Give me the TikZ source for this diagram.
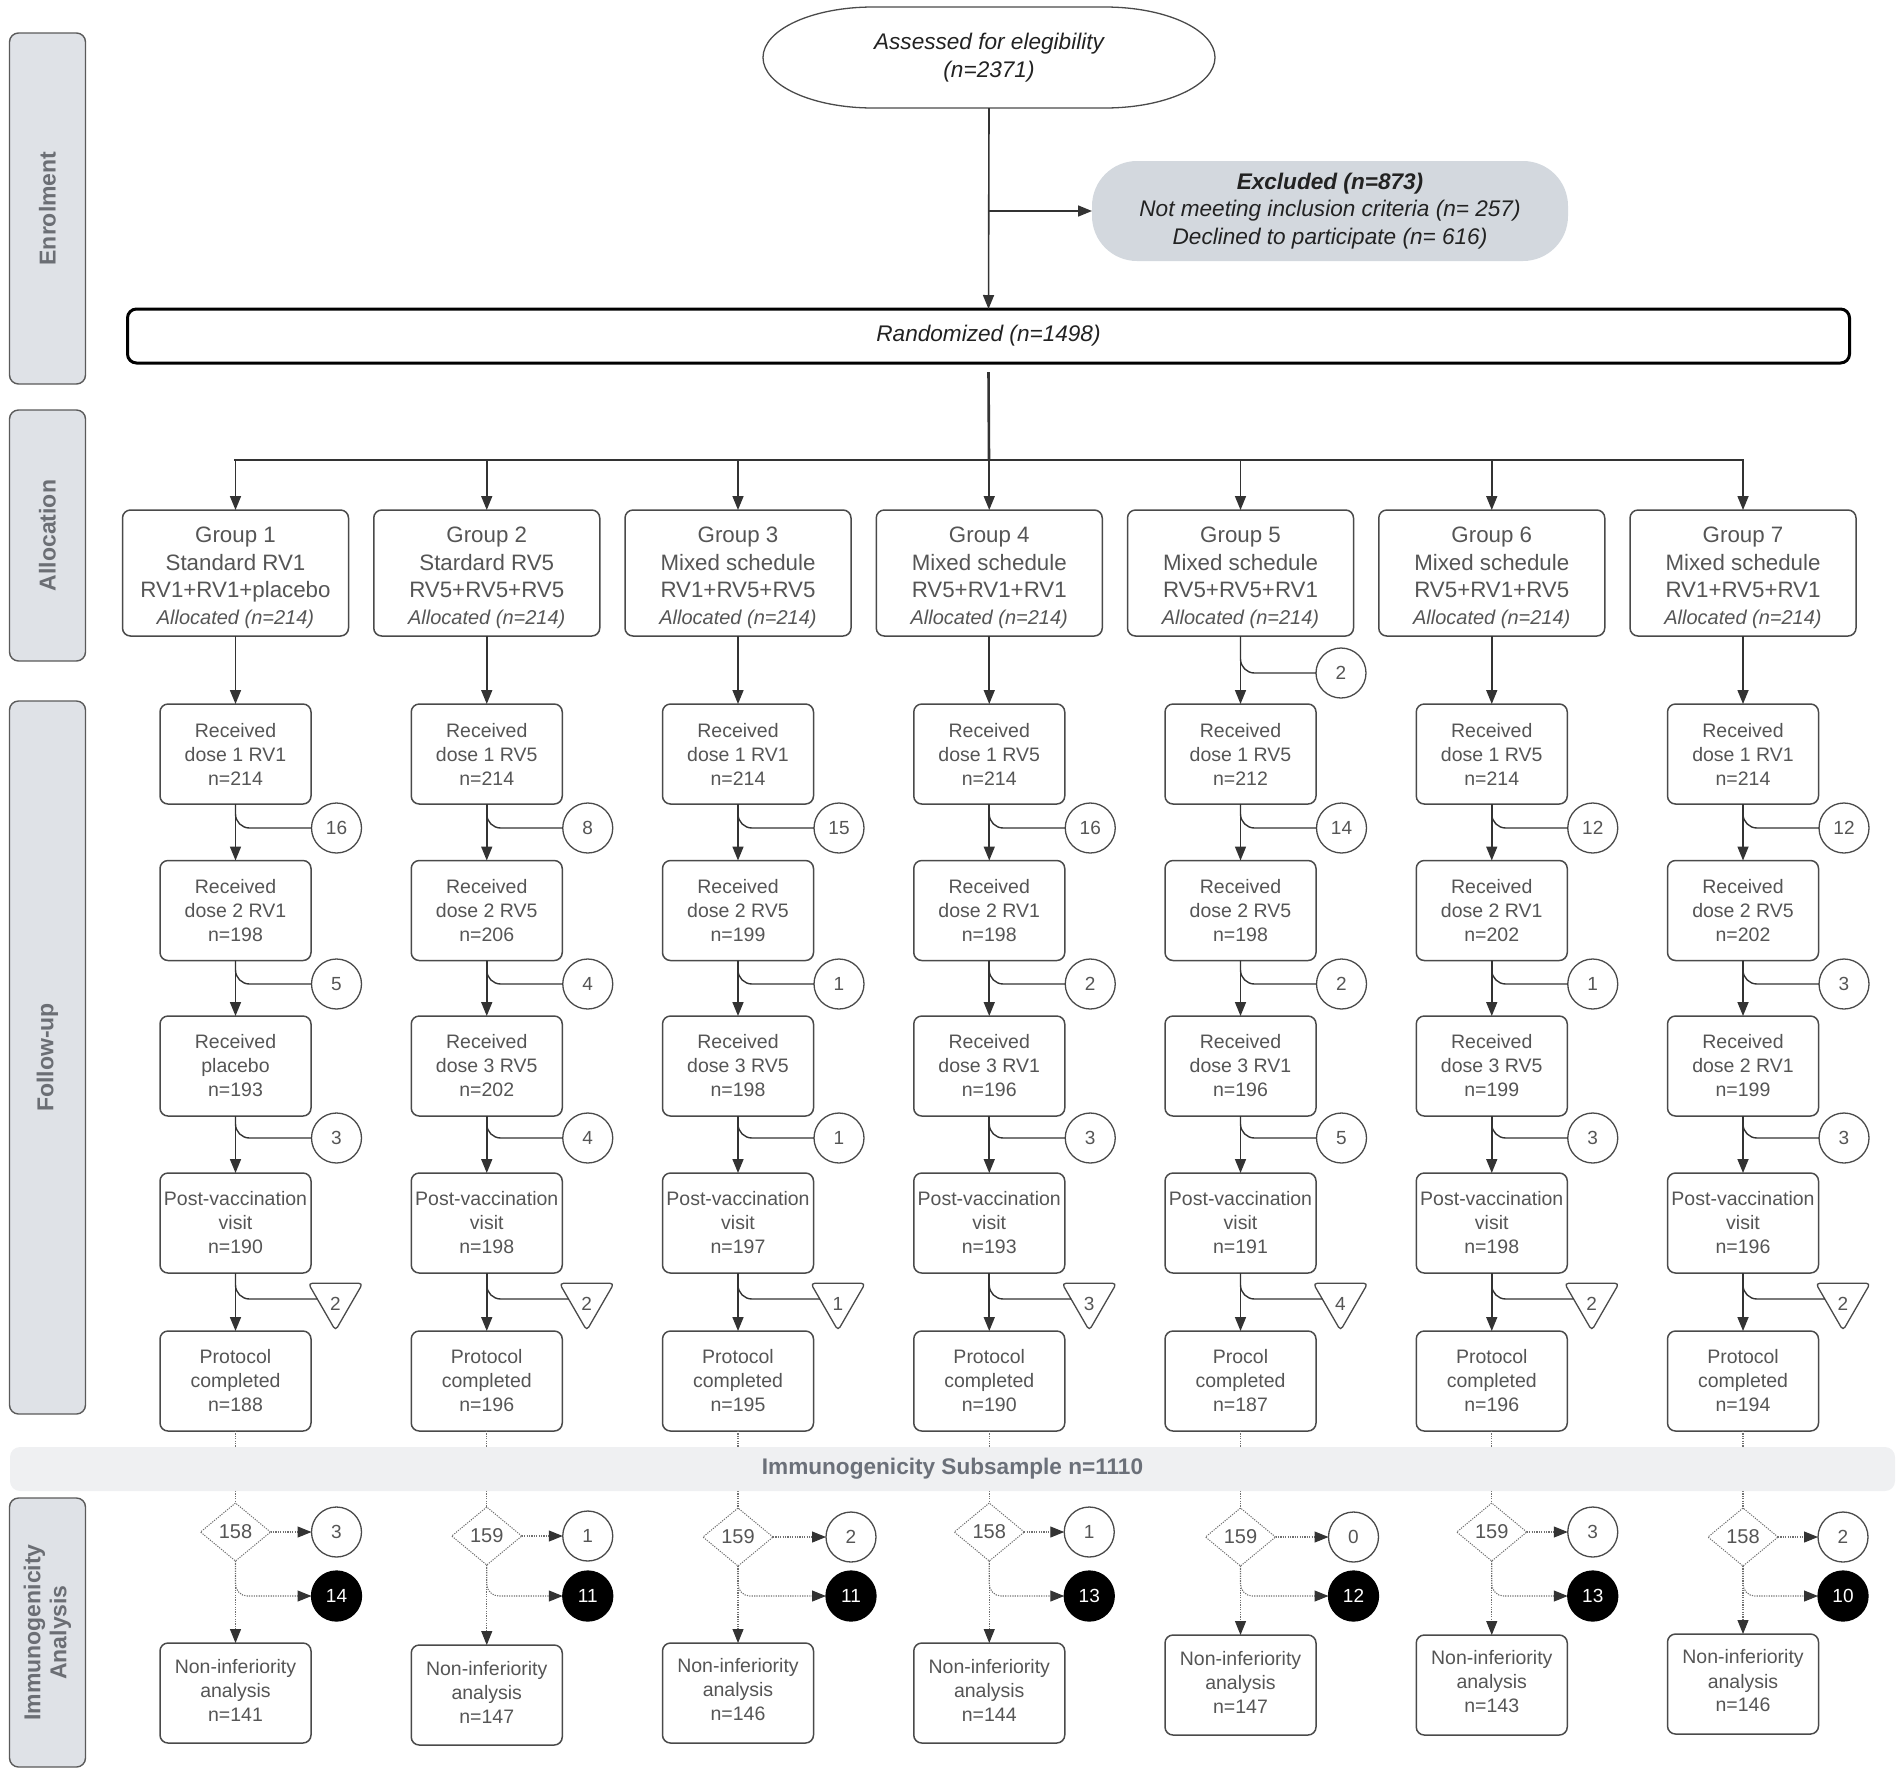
\documentclass[tikz,border=0pt]{standalone}
\usepackage{fontspec}
\setmainfont{Liberation Sans}
\usetikzlibrary{arrows.meta,shapes.geometric}
\definecolor{linec}{HTML}{333333}
\definecolor{boxc}{HTML}{4A4A4A}
\definecolor{txtc}{HTML}{555555}
\definecolor{toptxt}{HTML}{222222}
\definecolor{panelfill}{HTML}{DFE2E7}
\definecolor{panelborder}{HTML}{5A5A5A}
\definecolor{paneltext}{HTML}{6B6E74}
\definecolor{exclfill}{HTML}{D3D8DE}
\definecolor{bandfill}{HTML}{EFF0F2}
\definecolor{bandtext}{HTML}{6B7079}
\definecolor{dotc}{HTML}{707070}
\begin{document}
\begin{tikzpicture}[x=1pt,y=-1pt,
  every node/.style={inner sep=0pt, outer sep=0pt},
  panel/.style={draw=panelborder, fill=panelfill, line width=1.4pt, rounded corners=9pt, minimum width=76pt},
  paneltxt/.style={rotate=90, text=paneltext, font=\fontsize{23}{26}\selectfont\bfseries, align=center},
  grp/.style={draw=boxc, line width=1.5pt, rounded corners=8pt, minimum width=226pt, minimum height=126pt},
  grptxt/.style={text=txtc, align=center, font=\fontsize{22.3}{27.4}\selectfont},
  rbox/.style={draw=boxc, line width=1.5pt, rounded corners=8pt, minimum width=151pt, minimum height=100pt, text=txtc, align=center, font=\fontsize{19.5}{24}\selectfont},
  circ/.style={circle, draw=boxc, line width=1.3pt, minimum size=50pt, text=txtc, font=\fontsize{19}{22}\selectfont},
  bcirc/.style={circle, draw=black, fill=black, line width=1.3pt, minimum size=50pt, text=white, font=\fontsize{19}{22}\selectfont},
  tri/.style={regular polygon, regular polygon sides=3, shape border rotate=180, draw=boxc, line width=1.3pt, minimum size=63pt, rounded corners=4pt},
  tritxt/.style={text=txtc, font=\fontsize{19}{22}\selectfont},
  dia/.style={diamond, draw=dotc, line width=1pt, dash pattern=on 1.2pt off 1.2pt, minimum width=70pt, minimum height=58pt, text=txtc, font=\fontsize{20}{22}\selectfont},
  arr/.style={draw=linec, line width=1.6pt, -{Triangle[length=14pt,width=11pt]}},
  br/.style={draw=linec, line width=1.4pt, rounded corners=14pt},
  dotl/.style={draw=dotc, line width=1.1pt, dash pattern=on 1.2pt off 1.2pt},
  darr/.style={dotl, -{Triangle[length=14pt,width=11pt,color=linec]}},
  dbr/.style={dotl, rounded corners=12pt, -{Triangle[length=14pt,width=11pt,color=linec]}},
]
\useasboundingbox (0,0) rectangle (1902,1773);

% side panels
\node[panel, minimum height=351pt] (pEn) at (47.5,208.5) {};
\node[paneltxt] (tEn) at (pEn.center) {Enrolment};
\node[panel, minimum height=251pt] (pAl) at (47.5,535.5) {};
\node[paneltxt] (tAl) at (pAl.center) {Allocation};
\node[panel, minimum height=713pt] (pFu) at (47.5,1057.5) {};
\node[paneltxt] (tFu) at (pFu.center) {Follow-up};
\node[panel, minimum height=269pt] (pIm) at (47.5,1632.5) {};
\node[paneltxt] (tIm) at (pIm.center) {Immunogenicity\\Analysis};

% top
\draw[boxc, line width=1.3pt] (873,7) -- (1105,7)
  arc[start angle=270, end angle=450, x radius=110, y radius=50.5]
  -- (873,108) arc[start angle=90, end angle=270, x radius=110, y radius=50.5] -- cycle;
\node[minimum width=453pt, minimum height=101pt, align=center, text=toptxt,
  font=\fontsize{22.6}{28}\selectfont\itshape] (ass) at (989,57.5) {Assessed for elegibility\\(n=2371)};
\node[fill=exclfill, rounded corners=45pt, minimum width=476pt, minimum height=100pt, align=center, text=toptxt,
  font=\fontsize{22.6}{27.5}\selectfont\itshape] (exc) at (1330,211) {\textbf{Excluded (n=873)}\\Not meeting inclusion criteria (n= 257)\\Declined to participate (n= 616)};
\node[draw=black, line width=3pt, rounded corners=9pt, minimum width=1722pt, minimum height=54pt, text=toptxt,
  font=\fontsize{22.6}{26}\selectfont\itshape] (rand) at (988.5,336) {Randomized (n=1498)};
\draw[arr] (ass.south) -- (rand.north);
\draw[arr] (ass.south |- exc.west) -- (exc.west);

% bus
\coordinate (busM) at (989,460);
\foreach \i in {1,...,7}{
  \pgfmathsetmacro\cx{235.5+251.25*(\i-1)}
  \coordinate (bus\i) at (\cx,460);
}
\draw[draw=linec, line width=2.6pt] ([yshift=-9pt]rand.south) -- (busM);
\draw[draw=linec, line width=2.6pt, line cap=rect] (bus1) -- (bus7);

% groups
\foreach \i/\sch/\reg in {1/Standard RV1/RV1+RV1+placebo, 2/Stardard RV5/RV5+RV5+RV5, 3/Mixed schedule/RV1+RV5+RV5, 4/Mixed schedule/RV5+RV1+RV1, 5/Mixed schedule/RV5+RV5+RV1, 6/Mixed schedule/RV5+RV1+RV5, 7/Mixed schedule/RV1+RV5+RV1}{
  \pgfmathsetmacro\cx{235.5+251.25*(\i-1)}
  \node[grp] (g\i) at (\cx,573) {};
  \node[grptxt] (gt\i) at (\cx,578) {Group \i\\\sch\\\reg\\{\fontsize{20}{27.4}\selectfont\itshape Allocated (n=214)}};
}

% dose 1
\foreach \i/\da/\na/\ma in {1/dose 1 RV1/214/16, 2/dose 1 RV5/214/8, 3/dose 1 RV1/214/15, 4/dose 1 RV5/214/16, 5/dose 1 RV5/212/14, 6/dose 1 RV5/214/12, 7/dose 1 RV1/214/12}{
  \pgfmathsetmacro\cx{235.5+251.25*(\i-1)}
  \node[rbox] (a\i) at (\cx,754) {Received\\\da\\n=\na};
  \node[circ] (ca\i) at ({\cx+101},828) {\ma};
}
% dose 2
\foreach \i/\da/\na/\ma in {1/dose 2 RV1/198/5, 2/dose 2 RV5/206/4, 3/dose 2 RV5/199/1, 4/dose 2 RV1/198/2, 5/dose 2 RV5/198/2, 6/dose 2 RV1/202/1, 7/dose 2 RV5/202/3}{
  \pgfmathsetmacro\cx{235.5+251.25*(\i-1)}
  \node[rbox] (b\i) at (\cx,910.5) {Received\\\da\\n=\na};
  \node[circ] (cb\i) at ({\cx+101},984) {\ma};
}
% dose 3
\foreach \i/\da/\na/\ma in {1/placebo/193/3, 2/dose 3 RV5/202/4, 3/dose 3 RV5/198/1, 4/dose 3 RV1/196/3, 5/dose 3 RV1/196/5, 6/dose 3 RV5/199/3, 7/dose 2 RV1/199/3}{
  \pgfmathsetmacro\cx{235.5+251.25*(\i-1)}
  \node[rbox] (c\i) at (\cx,1066) {Received\\\da\\n=\na};
  \node[circ] (cc\i) at ({\cx+101},1138) {\ma};
}
% post-vaccination
\foreach \i/\na/\ma in {1/190/2, 2/198/2, 3/197/1, 4/193/3, 5/191/4, 6/198/2, 7/196/2}{
  \pgfmathsetmacro\cx{235.5+251.25*(\i-1)}
  \node[rbox] (p\i) at (\cx,1223) {Post-vaccination\\visit\\n=\na};
  \node[tri] (t\i) at ({\cx+100},1299) {};
  \node[tritxt] (tt\i) at ({\cx+100},1304) {\ma};
}
% protocol
\foreach \i/\pw/\na in {1/Protocol/188, 2/Protocol/196, 3/Protocol/195, 4/Protocol/190, 5/Procol/187, 6/Protocol/196, 7/Protocol/194}{
  \pgfmathsetmacro\cx{235.5+251.25*(\i-1)}
  \node[rbox] (q\i) at (\cx,1381) {\pw\\completed\\n=\na};
}
% group 5 extra dropout
\node[circ] (cx5) at (1341,673) {2};

% connectors follow-up
\foreach \i in {1,...,7}{
  \draw[arr] (bus\i) -- (g\i.north);
  \draw[arr] (g\i.south) -- (a\i.north);
  \draw[arr] (a\i.south) -- (b\i.north);
  \draw[br] (a\i.south) |- (ca\i.west);
  \draw[arr] (b\i.south) -- (c\i.north);
  \draw[br] (b\i.south) |- (cb\i.west);
  \draw[arr] (c\i.south) -- (p\i.north);
  \draw[br] (c\i.south) |- (cc\i.west);
  \draw[arr] (p\i.south) -- (q\i.north);
  \draw[br] (p\i.south) |- (t\i.west);
}
\draw[br] (g5.south) |- (cx5.west);

% immunogenicity analysis
\foreach \i/\dy/\bt/\off/\dn/\wn/\kn/\na in {1/1532/1643/101/158/3/14/141, 2/1536/1645/101/159/1/11/147, 3/1537/1643/113/159/2/11/146, 4/1532/1643/100/158/1/13/144, 5/1537/1635/113/159/0/12/147, 6/1532/1635/101/159/3/13/143, 7/1537/1634/100/158/2/10/146}{
  \pgfmathsetmacro\cx{235.5+251.25*(\i-1)}
  \node[dia] (d\i) at (\cx,\dy) {\dn};
  \node[circ] (w\i) at ({\cx+\off},\dy) {\wn};
  \node[bcirc] (k\i) at ({\cx+\off},1596) {\kn};
  \node[rbox, minimum height=100pt] (r\i) at (\cx,{\bt+50}) {};
  \node[text=txtc, align=center, font=\fontsize{19.5}{24}\selectfont] (rt\i) at (\cx,{\bt+47}) {Non-inferiority\\analysis\\n=\na};
  \draw[dotl] (q\i.south) -- (d\i.north);
  \draw[darr] (d\i.east) -- (w\i.west);
  \draw[darr] (d\i.south) -- (r\i.north);
  \draw[dbr] (d\i.south) |- (k\i.west);
}

% subsample band (over the dotted lines)
\node[fill=bandfill, rounded corners=10pt, minimum width=1885pt, minimum height=44pt, text=bandtext,
  font=\fontsize{22.6}{25}\selectfont\bfseries] (band) at (952.5,1469) {Immunogenicity Subsample n=1110};
\end{tikzpicture}
\end{document}
